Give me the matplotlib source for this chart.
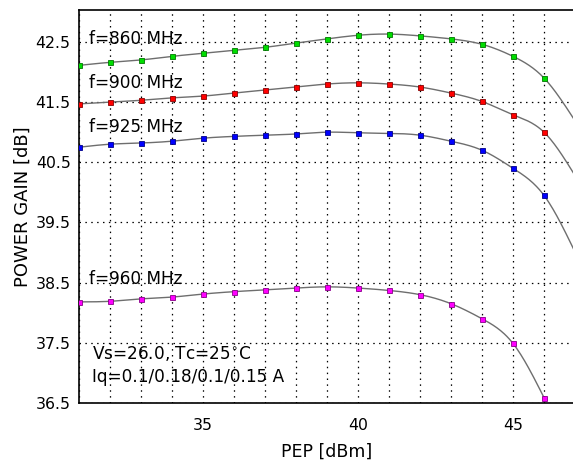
import numpy as np
import matplotlib
matplotlib.use('Agg')
import matplotlib.pyplot as plt
from matplotlib.ticker import MultipleLocator

plt.rcParams['font.family'] = 'DejaVu Sans'

pep = [31, 32, 33, 34, 35, 36, 37, 38, 39, 40, 41, 42, 43, 44, 45, 46, 47]
gain_860 = [42.11, 42.16, 42.20, 42.26, 42.31, 42.36, 42.41, 42.48, 42.55,
            42.61, 42.63, 42.60, 42.55, 42.46, 42.26, 41.90, 41.19]
gain_900 = [41.47, 41.50, 41.53, 41.57, 41.60, 41.65, 41.70, 41.75, 41.80,
            41.82, 41.80, 41.75, 41.65, 41.51, 41.29, 41.00, 40.28]
gain_925 = [40.75, 40.80, 40.82, 40.85, 40.90, 40.93, 40.95, 40.97, 41.00,
            40.99, 40.98, 40.95, 40.85, 40.70, 40.40, 39.95, 39.01]
gain_960 = [38.18, 38.19, 38.23, 38.26, 38.31, 38.35, 38.38, 38.41, 38.43,
            38.41, 38.37, 38.30, 38.15, 37.90, 37.49, 36.59]

labels = ['f=860 MHz', 'f=900 MHz', 'f=925 MHz', 'f=960 MHz']
face = ['#00dd00', '#ff0000', '#0000ff', '#ff00ff']
edge = ['#007700', '#880000', '#000088', '#880088']


def natural_spline(x, y, n=25):
    x = np.asarray(x, float)
    y = np.asarray(y, float)
    k = len(x)
    h = np.diff(x)
    A = np.zeros((k, k))
    b = np.zeros(k)
    A[0, 0] = A[-1, -1] = 1
    for i in range(1, k - 1):
        A[i, i - 1] = h[i - 1]
        A[i, i] = 2 * (h[i - 1] + h[i])
        A[i, i + 1] = h[i]
        b[i] = 6 * ((y[i + 1] - y[i]) / h[i] - (y[i] - y[i - 1]) / h[i - 1])
    M = np.linalg.solve(A, b)
    xs, ys = [], []
    for i in range(k - 1):
        t = np.linspace(x[i], x[i + 1], n, endpoint=(i == k - 2))
        a = x[i + 1] - t
        c = t - x[i]
        s = (M[i] * a**3 + M[i + 1] * c**3) / (6 * h[i]) \
            + (y[i] / h[i] - M[i] * h[i] / 6) * a \
            + (y[i + 1] / h[i] - M[i + 1] * h[i] / 6) * c
        xs.append(t)
        ys.append(s)
    return np.concatenate(xs), np.concatenate(ys)


fig = plt.figure(figsize=(5.73, 4.65), dpi=100)
ax = fig.add_axes([79 / 573, 62 / 465, 496 / 573, 393 / 465])

series = [gain_860, gain_900, gain_925, gain_960]
for g, fc, ec in zip(series, face, edge):
    xp = pep[:len(g)]
    sx, sy = natural_spline(xp, g)
    ax.plot(sx, sy, color='#6e6e6e', lw=1.0, zorder=3)
    ax.plot(xp, g, 's', ms=3.6, mfc=fc, mec=ec, mew=0.6, zorder=4)

ax.set_xlim(31, 47)
ax.set_ylim(36.5, 43.03)
ax.xaxis.set_major_locator(MultipleLocator(5))
ax.xaxis.set_minor_locator(MultipleLocator(1))
ax.set_yticks([36.5, 37.5, 38.5, 39.5, 40.5, 41.5, 42.5])
ax.set_yticklabels(['36.5', '37.5', '38.5', '39.5', '40.5', '41.5', '42.5'])
ax.grid(True, which='both', color='black', lw=0.9, linestyle=(0, (1.2, 3.5)))
ax.tick_params(which='both', length=0, labelsize=11.3)
ax.tick_params(axis='x', pad=11)
ax.tick_params(axis='y', pad=6)
for sp in ax.spines.values():
    sp.set_linewidth(1.2)

ax.set_xlabel('PEP [dBm]', fontsize=12.5, labelpad=7)
ax.set_ylabel('POWER GAIN [dB]', fontsize=13, labelpad=3)

label_y = [42.555, 41.81, 41.08, 38.56]
for lab, ly in zip(labels, label_y):
    ax.text(31.32, ly, lab, fontsize=12.2, va='center', ha='left', zorder=5)
ax.text(31.42, 37.33, 'Vs=26.0, Tc=25$^{\\circ}$C', fontsize=12.2, va='center', ha='left')
ax.text(31.42, 36.93, 'Iq=0.1/0.18/0.1/0.15 A', fontsize=12.2, va='center', ha='left')

fig.savefig('out.png', dpi=100)
